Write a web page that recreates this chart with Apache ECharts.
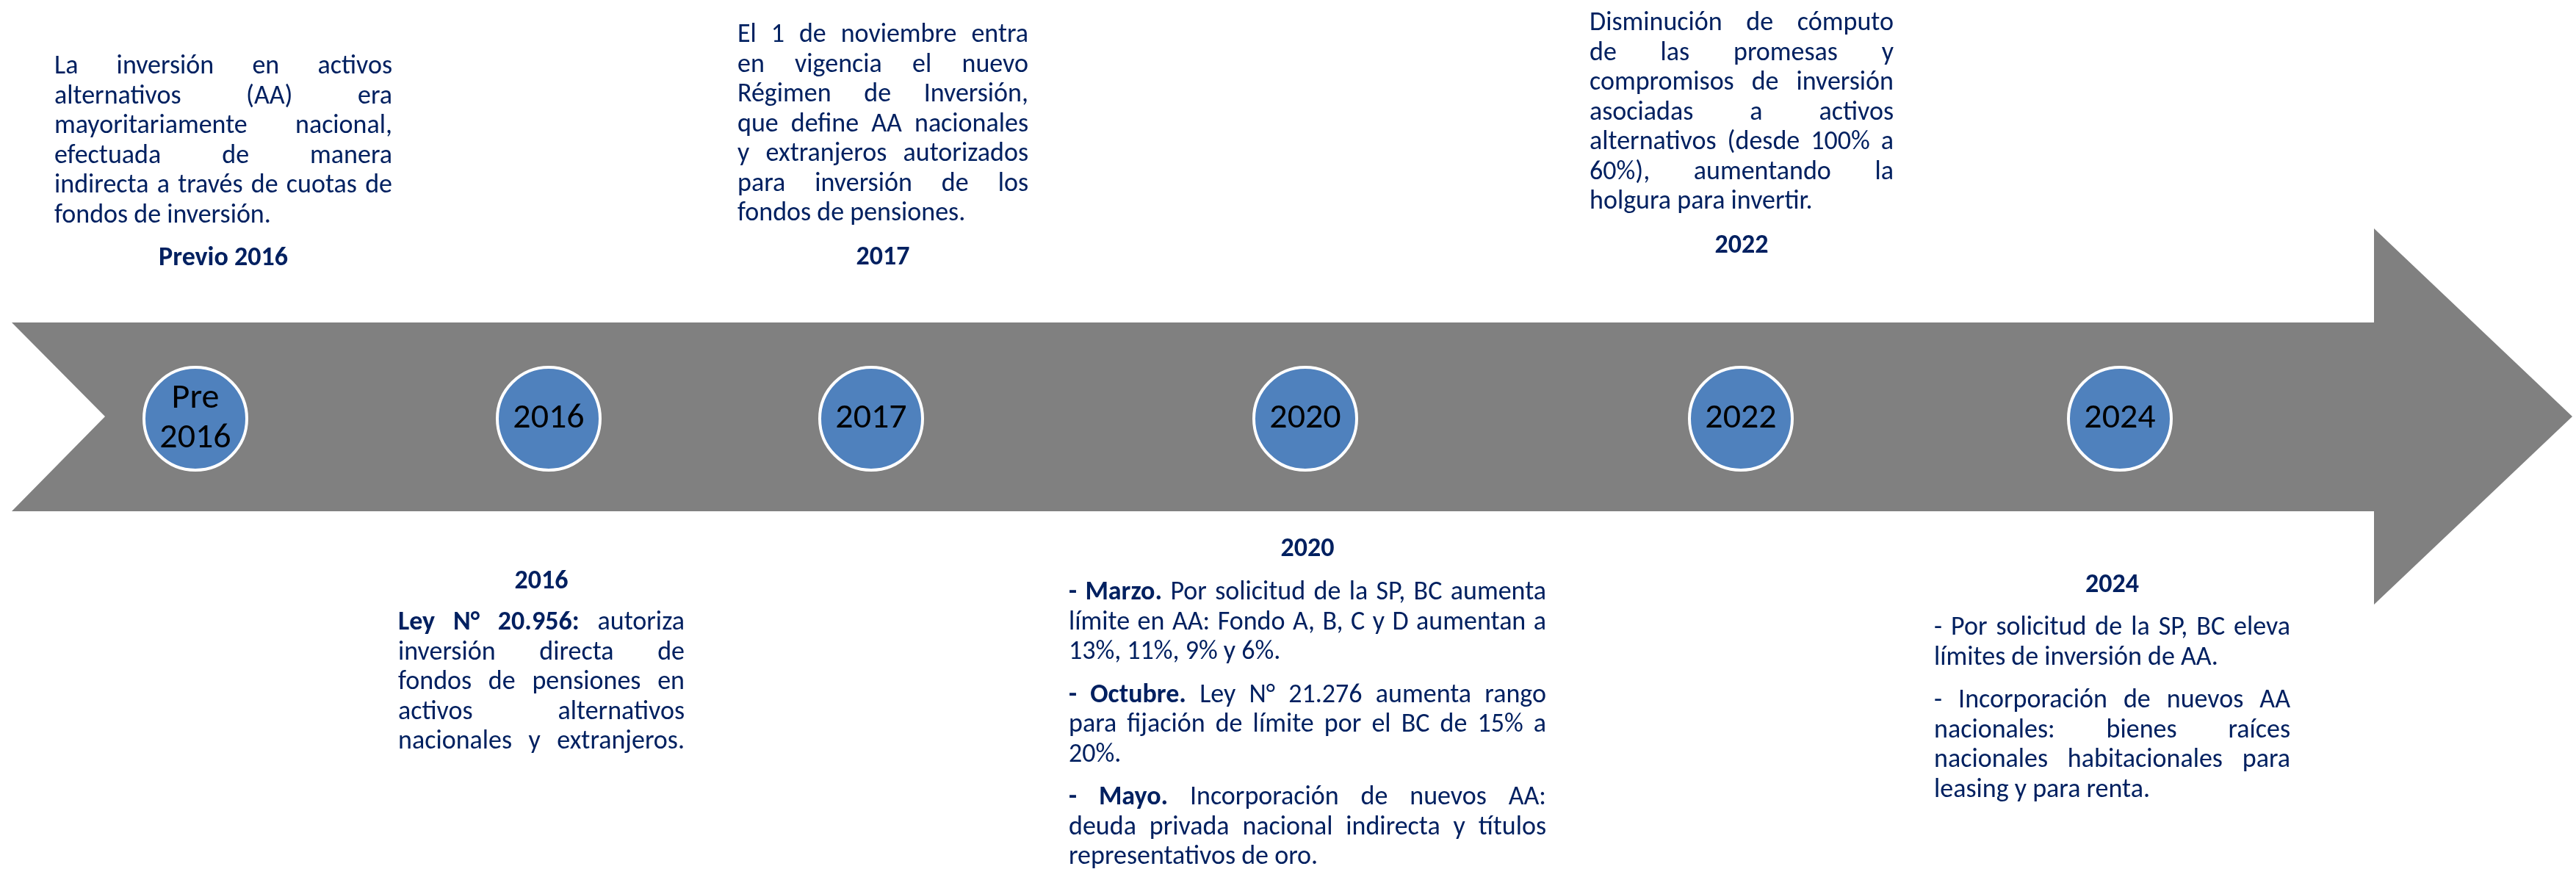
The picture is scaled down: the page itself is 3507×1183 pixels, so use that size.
<!DOCTYPE html>
<html>
<head>
<meta charset="utf-8">
<title>Timeline activos alternativos</title>
<script src="https://cdn.jsdelivr.net/npm/echarts@6/dist/echarts.min.js"></script>
<style>
  html, body { margin: 0; padding: 0; background: #fff; }
  #chart { width: 3507px; height: 1183px; }
</style>
</head>
<body>
<div id="chart"></div>
<script>
// hitos de la línea de tiempo
const years = ['Pre\n2016', '2016', '2017', '2020', '2022', '2024'];
const nodePos = [266, 747, 1186, 1777, 2370, 2886];
const headings = ['Previo 2016', '2016', '2017', '2020', '2022', '2024'];

// textos (** marca negrita), un arreglo por párrafo
const txtPrevio = [[
  'La inversión en activos',
  'alternativos (AA) era',
  'mayoritariamente nacional,',
  'efectuada de manera',
  'indirecta a través de cuotas de',
  'fondos de inversión.'
]];
const txt2016 = [[
  '**Ley N° 20.956:** autoriza',
  'inversión directa de',
  'fondos de pensiones en',
  'activos alternativos',
  'nacionales y extranjeros.'
]];
const txt2017 = [[
  'El 1 de noviembre entra',
  'en vigencia el nuevo',
  'Régimen de Inversión,',
  'que define AA nacionales',
  'y extranjeros autorizados',
  'para inversión de los',
  'fondos de pensiones.'
]];
const txt2020 = [
  ['**- Marzo.** Por solicitud de la SP, BC aumenta',
   'límite en AA: Fondo A, B, C y D aumentan a',
   '13%, 11%, 9% y 6%.'],
  ['**- Octubre.** Ley N° 21.276 aumenta rango',
   'para fijación de límite por el BC de 15% a',
   '20%.'],
  ['**- Mayo.** Incorporación de nuevos AA:',
   'deuda privada nacional indirecta y títulos',
   'representativos de oro.']
];
const txt2022 = [[
  'Disminución de cómputo',
  'de las promesas y',
  'compromisos de inversión',
  'asociadas a activos',
  'alternativos (desde 100% a',
  '60%), aumentando la',
  'holgura para invertir.'
]];
const txt2024 = [
  ['- Por solicitud de la SP, BC eleva',
   'límites de inversión de AA.'],
  ['- Incorporación de nuevos AA',
   'nacionales: bienes raíces',
   'nacionales habitacionales para',
   'leasing y para renta.']
];

// layout
const FONT = 'Carlito, Lato, "Open Sans", sans-serif';
const NAVY = '#002060';
const SIZE = 36;
const LH = 40.5;
const PARA = 18;
const AXIS_Y = 570;

const blocks = [
  { head: headings[0], paras: txtPrevio, x0: 74, x1: 534, y0: 91, headY: 352 },
  { head: headings[1], paras: txt2016, x0: 542, x1: 932, y0: 848, headY: 792, justifyLast: true },
  { head: headings[2], paras: txt2017, x0: 1004, x1: 1400, y0: 48, headY: 351 },
  { head: headings[3], paras: txt2020, x0: 1455, x1: 2105, y0: 807, headY: 748 },
  { head: headings[4], paras: txt2022, x0: 2164, x1: 2578, y0: 32, headY: 335 },
  { head: headings[5], paras: txt2024, x0: 2633, x1: 3118, y0: 855, headY: 797 }
];

const arrowShape = [
  [16, 439], [3232, 439], [3232, 311], [3502, 567],
  [3232, 823], [3232, 696], [16, 696], [143, 567]
];

const ctx = document.createElement('canvas').getContext('2d');
function fontStr(bold) {
  return (bold ? 'bold ' : 'normal ') + SIZE + 'px ' + FONT;
}
function measure(t, bold) {
  ctx.font = fontStr(bold);
  return ctx.measureText(t).width;
}

function parseLine(s) {
  let bold = false;
  const out = [];
  s.split(' ').forEach(w => {
    if (w.startsWith('**')) { bold = true; w = w.slice(2); }
    let end = false;
    if (w.endsWith('**')) { end = true; w = w.slice(0, -2); }
    out.push({ t: w, b: bold });
    if (end) bold = false;
  });
  return out;
}

function textEl(t, x, y, bold, align, k) {
  return {
    type: 'text',
    x: x,
    y: y,
    scaleX: k || 1,
    silent: true,
    style: {
      text: t,
      font: fontStr(bold),
      fontSize: SIZE,
      fontWeight: bold ? 'bold' : 'normal',
      fontFamily: FONT,
      fill: NAVY,
      align: align,
      textAlign: align,
      verticalAlign: 'middle',
      textVerticalAlign: 'middle'
    }
  };
}

function layoutBlock(bk, els, toPx) {
  const W = bk.x1 - bk.x0;
  const sp = measure(' ', false);
  const lines = [];
  bk.paras.forEach((p, pi) => p.forEach((s, li) => {
    lines.push({
      words: parseLine(s),
      justify: li < p.length - 1 || !!bk.justifyLast,
      paraBreak: pi > 0 && li === 0
    });
  }));
  let k = 1;
  lines.forEach(l => {
    l.ws = l.words.map(w => measure(w.t, w.b));
    l.sum = l.ws.reduce((a, b) => a + b, 0);
    const minGaps = (l.words.length - 1) * sp * 0.8;
    if (l.sum + minGaps > W) k = Math.min(k, (W - minGaps) / l.sum);
  });

  const head = toPx([(bk.x0 + bk.x1) / 2, bk.headY]);
  els.push(textEl(bk.head, head[0], head[1], true, 'center', 1));

  let y = bk.y0;
  lines.forEach((l, i) => {
    if (i > 0) y += LH + (l.paraBreak ? PARA : 0);
    const n = l.words.length;
    const gap = l.justify && n > 1 ? (W - l.sum * k) / (n - 1) : sp * k;
    let x = bk.x0;
    l.words.forEach((w, j) => {
      const p = toPx([x, y]);
      els.push(textEl(w.t, p[0], p[1], w.b, 'left', k));
      x += l.ws[j] * k + gap;
    });
  });
}

const chart = echarts.init(document.getElementById('chart'), null, { renderer: 'canvas' });

chart.setOption({
  backgroundColor: '#ffffff',
  animation: false,
  grid: { left: 0, right: 0, top: 0, bottom: 0 },
  xAxis: { type: 'value', min: 0, max: 3507, show: false },
  yAxis: { type: 'value', min: 0, max: 1183, inverse: true, show: false },
  series: [
    {
      type: 'custom',
      silent: true,
      z: 1,
      data: [[0, 0]],
      renderItem: (params, api) => ({
        type: 'polygon',
        shape: { points: arrowShape.map(p => api.coord(p)) },
        style: { fill: '#808080' }
      })
    },
    {
      type: 'scatter',
      z: 5,
      symbol: 'circle',
      symbolSize: 140,
      data: nodePos.map(x => [x, AXIS_Y]),
      itemStyle: { color: '#4F81BD', borderColor: '#ffffff', borderWidth: 4, opacity: 1 },
      label: {
        show: true,
        position: 'inside',
        formatter: p => years[p.dataIndex],
        color: '#000000',
        fontFamily: FONT,
        fontSize: 48,
        lineHeight: 54
      }
    }
  ]
});

const els = [];
const toPx = v => chart.convertToPixel({ gridIndex: 0 }, v);
blocks.forEach(bk => layoutBlock(bk, els, toPx));
chart.setOption({ graphic: { elements: els } });
</script>
</body>
</html>
